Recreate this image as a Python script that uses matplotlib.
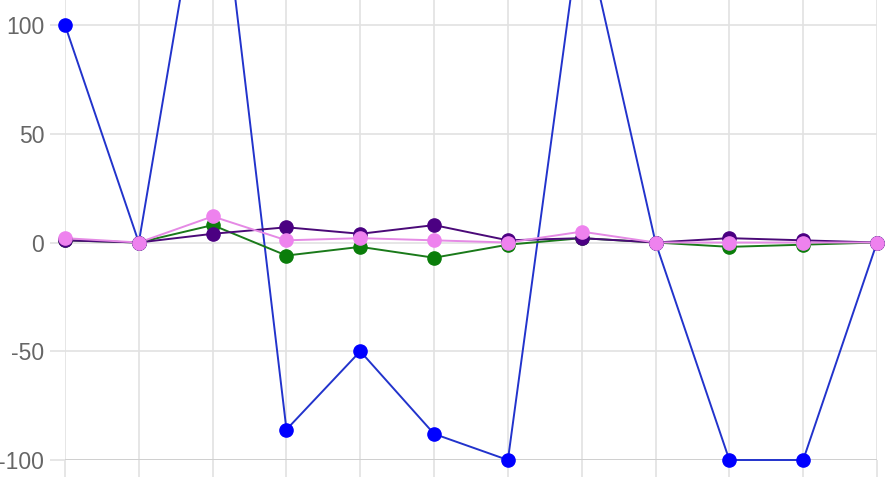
import matplotlib
matplotlib.use("Agg")
import matplotlib.pyplot as plt

categories = list(range(12))
blue = [100, 0, 200, -86, -50, -88, -100, 150, 0, -100, -100, 0]
green = [1, 0, 8, -6, -2, -7, -1, 2, 0, -2, -1, 0]
purple = [1, 0, 4, 7, 4, 8, 1, 2, 0, 2, 1, 0]
pink = [2, 0, 12, 1, 2, 1, 0, 5, 0, 0, 0, 0]
yticks = [-100, -50, 0, 50, 100]

plt.rcParams['font.family'] = ['Liberation Sans', 'DejaVu Sans']
plt.rcParams['axes.unicode_minus'] = False

fig = plt.figure(figsize=(8.92, 4.78), dpi=100)
ax = fig.add_axes([65/892, 18/478, (877-65)/892, 460/478])

series = [
    (blue, '#0000ff', '#2233cc'),
    (green, '#0a7d0a', '#1a7a1a'),
    (purple, '#4b0082', '#4b0a78'),
    (pink, '#ee82ee', '#e58ae5'),
]
for vals, mcol, lcol in series:
    ax.plot(categories, vals, color=lcol, linewidth=1.4, zorder=3, clip_on=False)
    ax.plot(categories, vals, linestyle='none', marker='o', markersize=9.5,
            markerfacecolor=mcol, markeredgecolor=mcol, zorder=4, clip_on=False)

ax.set_xlim(0, 11)
ax.set_ylim(-100, 111.5)
ax.set_yticks(yticks)
ax.set_xticks(categories)
ax.set_xticklabels([])
ax.grid(True, color='#e2e2e2', linewidth=1.2)
ax.set_axisbelow(True)
for s in ax.spines.values():
    s.set_visible(False)
ax.tick_params(axis='y', length=11, color='#e2e2e2', width=1.2, pad=4,
               labelsize=16.5, labelcolor='#666666')
ax.tick_params(axis='x', length=12, color='#e2e2e2', width=1.2)
ax.axhline(-100, color='#d0d0d0', linewidth=1.4, zorder=1)

fig.savefig('out.png', dpi=100)
